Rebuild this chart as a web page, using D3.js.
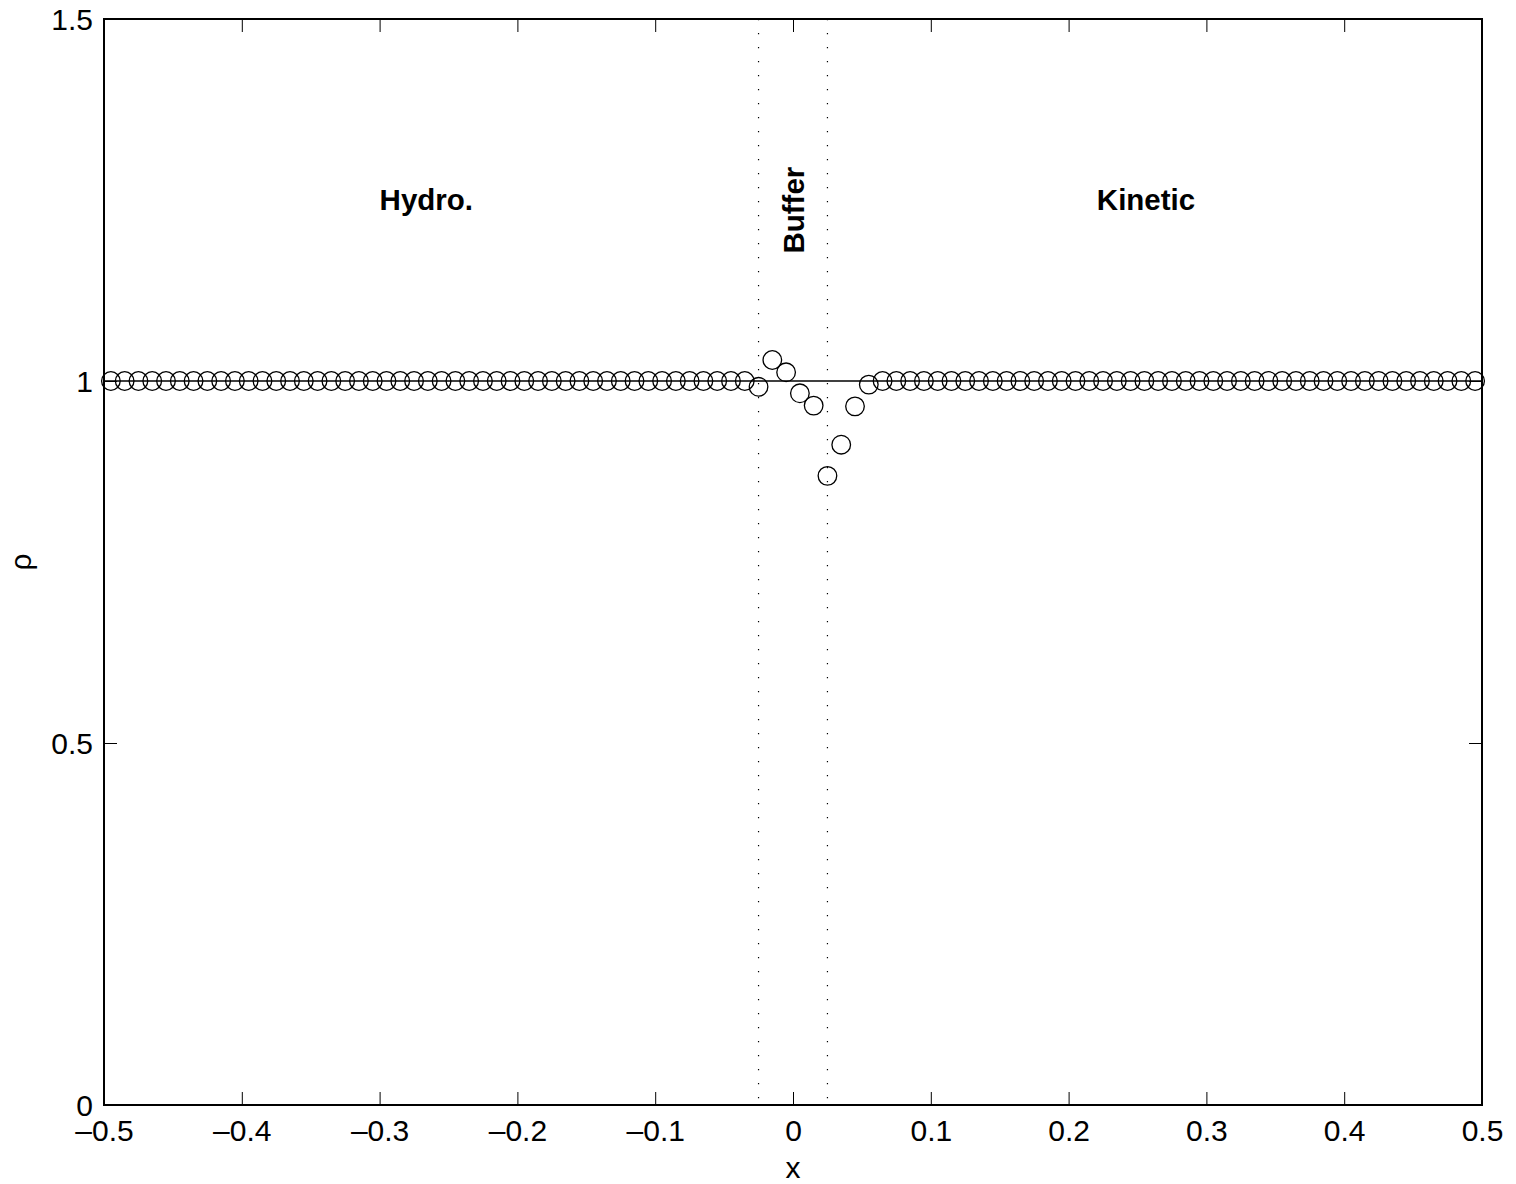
<!DOCTYPE html>
<html>
<head>
<meta charset="utf-8">
<script src="https://cdn.jsdelivr.net/npm/d3@7"></script>
<style>
  html, body { margin: 0; padding: 0; background: #fff; }
  svg text { font-family: "Liberation Sans", Arial, Helvetica, sans-serif; fill: #000; }
</style>
</head>
<body>
<svg id="chart" width="1516" height="1184"></svg>
<script>
// Cell-centred grid positions (100 cells on [-0.5, 0.5])
const cellX = d3.range(100).map(i => -0.495 + i * 0.01);

// Density values near the coupling interface; all other cells sit at 1
const perturbed = {
  "-0.025": 0.992,
  "-0.015": 1.029,
  "-0.005": 1.012,
  "0.005": 0.983,
  "0.015": 0.966,
  "0.025": 0.869,
  "0.035": 0.912,
  "0.045": 0.965,
  "0.055": 0.995
};
const rho = cellX.map(x => {
  const key = (Math.round(x * 1000) / 1000).toString();
  return perturbed[key] !== undefined ? perturbed[key] : 1.0;
});

// Exact solution (constant state)
const exactX = [-0.5, 0.5];
const exactRho = [1, 1];

// Buffer zone boundaries
const bufferEdges = [-0.025, 0.025];

const xTicks = [-0.5, -0.4, -0.3, -0.2, -0.1, 0, 0.1, 0.2, 0.3, 0.4, 0.5];
const yTicks = [0, 0.5, 1, 1.5];

// Region annotations: left-anchored at (x, y) on the baseline
const regionLabels = [
  { text: "Hydro.", x: -0.3, y: 1.2357, rotate: false },
  { text: "Kinetic", x: 0.2205, y: 1.2357, rotate: false },
  { text: "Buffer", x: 0.0083, y: 1.176, rotate: true }
];

const margin = { left: 104, top: 19, right: 1516 - 1482, bottom: 1184 - 1105 };
const W = 1516, H = 1184;
const svg = d3.select("#chart");

const x = d3.scaleLinear().domain([-0.5, 0.5]).range([margin.left, W - margin.right]);
const y = d3.scaleLinear().domain([0, 1.5]).range([H - margin.bottom, margin.top]);

const fmt = v => (v < 0 ? "\u2013" : "") + d3.format("")(Math.abs(v));
const tickLen = 13;
const fontSize = 30;

// Axes (ticks point inward, mirrored on top and right)
const gx = svg.append("g").attr("transform", `translate(0,${y(0)})`)
  .call(d3.axisBottom(x).tickValues(xTicks).tickSize(-tickLen).tickPadding(15).tickFormat(fmt));
const gxTop = svg.append("g").attr("transform", `translate(0,${y(1.5)})`)
  .call(d3.axisTop(x).tickValues(xTicks).tickSize(-tickLen).tickFormat(""));
const gy = svg.append("g").attr("transform", `translate(${x(-0.5)},0)`)
  .call(d3.axisLeft(y).tickValues(yTicks).tickSize(-tickLen).tickPadding(11).tickFormat(d3.format("")));
const gyR = svg.append("g").attr("transform", `translate(${x(0.5)},0)`)
  .call(d3.axisRight(y).tickValues(yTicks).tickSize(-tickLen).tickFormat(""));

[gx, gxTop, gy, gyR].forEach(g => {
  g.select(".domain").remove();
  g.selectAll(".tick line").attr("stroke", "#000").attr("stroke-width", 1);
  g.selectAll(".tick text").attr("font-size", fontSize).attr("fill", "#000");
});
gy.selectAll(".tick text").attr("dy", "0.35em");

// Plot frame
svg.append("rect")
  .attr("x", x(-0.5)).attr("y", y(1.5))
  .attr("width", x(0.5) - x(-0.5)).attr("height", y(0) - y(1.5))
  .attr("fill", "none").attr("stroke", "#000").attr("stroke-width", 2);

// Buffer boundaries (dotted)
svg.selectAll("line.buffer").data(bufferEdges).join("line")
  .attr("class", "buffer")
  .attr("x1", d => x(d)).attr("x2", d => x(d))
  .attr("y1", y(1.5)).attr("y2", y(0))
  .attr("stroke", "#000").attr("stroke-width", 1.2)
  .attr("stroke-dasharray", "1.2,12.8");

// Exact solution line
svg.append("path")
  .datum(exactX.map((d, i) => [d, exactRho[i]]))
  .attr("d", d3.line().x(d => x(d[0])).y(d => y(d[1])))
  .attr("fill", "none").attr("stroke", "#000").attr("stroke-width", 1.5);

// Numerical solution markers
svg.selectAll("circle.pt").data(cellX).join("circle")
  .attr("class", "pt")
  .attr("cx", d => x(d)).attr("cy", (d, i) => y(rho[i]))
  .attr("r", 9.3)
  .attr("fill", "none").attr("stroke", "#000").attr("stroke-width", 1.3);

// Region annotations
regionLabels.forEach(l => {
  const t = svg.append("text")
    .attr("font-size", 29.5).attr("font-weight", "bold")
    .attr("text-anchor", "start")
    .text(l.text);
  if (l.rotate) {
    t.attr("transform", `translate(${x(l.x)},${y(l.y)}) rotate(-90)`);
  } else {
    t.attr("x", x(l.x)).attr("y", y(l.y));
  }
});

// Axis titles
svg.append("text")
  .attr("x", x(0)).attr("y", 1178)
  .attr("font-size", fontSize).attr("text-anchor", "middle")
  .text("x");
svg.append("text")
  .attr("transform", `translate(31,${y(0.75)}) rotate(-90)`)
  .attr("font-size", fontSize).attr("text-anchor", "middle")
  .text("\u03c1");
</script>
</body>
</html>
